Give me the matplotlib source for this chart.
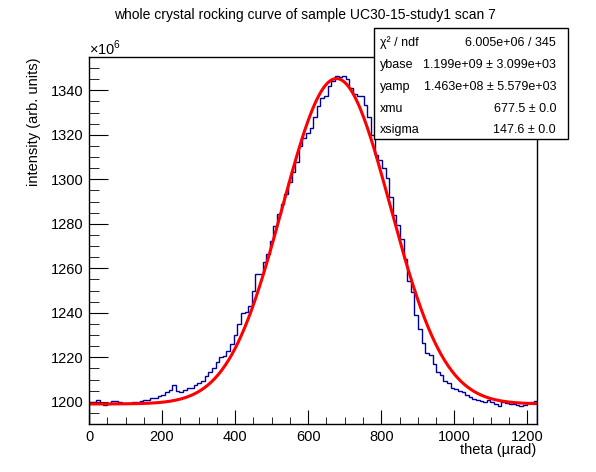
import numpy as np
import matplotlib
matplotlib.use("Agg")
import matplotlib.pyplot as plt
from matplotlib.patches import Rectangle

plt.rcParams['font.family'] = ['Liberation Sans', 'DejaVu Sans']
plt.rcParams['mathtext.fontset'] = 'custom'
plt.rcParams['mathtext.rm'] = 'Liberation Sans'

# histogram contents (units of 1e6), bins of ~10 urad starting at theta = 0
counts = [
    1200, 1200, 1200.6, 1199.5, 1198.6, 1199, 1200.2, 1200.3, 1199.8, 1199.4,
    1199.4, 1199.6, 1199.9, 1199.8, 1200.2, 1200.7, 1200.9, 1201.5, 1201.8, 1202.4,
    1203.2, 1204.5, 1205.4, 1207.4, 1205, 1204.6, 1205.5, 1206, 1206.4, 1207.6,
    1208.6, 1209.5, 1211.5, 1213.6, 1215.2, 1218, 1220, 1220.5, 1222.8, 1226,
    1230, 1235, 1240, 1240.5, 1243, 1250, 1257.5, 1257.5, 1263, 1266.5,
    1272.5, 1279, 1284.5, 1289, 1293.5, 1299, 1303.5, 1308, 1315, 1318.5,
    1321, 1323, 1328, 1333, 1336.5, 1337.5, 1342, 1344, 1346.5, 1346,
    1346.5, 1345, 1341, 1338.5, 1337.5, 1337.5, 1333.5, 1328, 1320, 1311,
    1308.5, 1305, 1300.5, 1292, 1284, 1279.5, 1273, 1264, 1254.5, 1249.5,
    1239, 1232.5, 1226.5, 1222, 1221, 1217, 1213.5, 1212, 1209.5, 1208.5,
    1206, 1205.8, 1205, 1204.5, 1203, 1202, 1201.4, 1201, 1200.4, 1200.1,
    1200.8, 1200, 1199, 1198, 1199.8, 1199.5, 1199.2, 1198.8, 1198.5, 1198,
    1198.6, 1199.5, 1200, 1200.5,
]
bin_width = 9.9

# fit result shown in the stats box
chi2, ndf = 6.005e+06, 345
ybase, ybase_err = 1.199e+09, 3.099e+03
yamp, yamp_err = 1.463e+08, 5.579e+03
xmu, xmu_err = 677.5, 0.0
xsigma, xsigma_err = 147.6, 0.0

x_range = (0, 1225)
y_range = (1190, 1355)

fig = plt.figure(figsize=(5.96, 4.72), dpi=100)
W, H = 596, 472
ax = fig.add_axes([89 / W, 1 - 424 / H, (536.5 - 89) / W, (424 - 57) / H])

edges = np.arange(len(counts) + 1) * bin_width
ax.stairs(counts, edges, color='#000099', lw=1.0)

xf = np.linspace(x_range[0], x_range[1], 400)
yf = (ybase + yamp * np.exp(-0.5 * ((xf - xmu) / xsigma) ** 2)) / 1e6
ax.plot(xf, yf, color='#ff0000', lw=2.2)

ax.set_xlim(*x_range)
ax.set_ylim(*y_range)
ax.set_xticks(np.arange(0, 1201, 200))
ax.set_xticks(np.arange(0, 1225, 50), minor=True)
ax.set_yticks(np.arange(1200, 1341, 20))
ax.set_yticks(np.arange(1190, 1356, 5), minor=True)
ax.tick_params(which='both', direction='in', labelsize=10.5)
ax.tick_params(axis='x', which='major', length=10, pad=4)
ax.tick_params(axis='x', which='minor', length=5)
ax.tick_params(axis='y', which='major', length=14, pad=4)
ax.tick_params(axis='y', which='minor', length=7)
for s in ax.spines.values():
    s.set_linewidth(1.0)

fig.text(305 / W, 1 - 15 / H, 'whole crystal rocking curve of sample UC30-15-study1 scan 7',
         ha='center', va='center', fontsize=10)
fig.text(536 / W, 1 - 450 / H, 'theta (\u00b5rad)', ha='right', va='center', fontsize=10.5)
fig.text(34 / W, 1 - 57 / H, 'intensity (arb. units)', ha='center', va='top',
         rotation=90, fontsize=10.5)
fig.text(89 / W, 1 - 48 / H, r'$\times10^{6}$', ha='left', va='center', fontsize=10.5)

# stats box
box = Rectangle((374 / W, 1 - 139 / H), (568 - 374) / W, (139 - 28) / H,
                transform=fig.transFigure, facecolor='white', edgecolor='black',
                lw=1.0, zorder=5)
fig.patches.append(box)
rows = [
    ('\u03c7\u00b2 / ndf', f'{chi2:.3e} / {ndf}'),
    ('ybase', f'{ybase:.3e} \u00b1 {ybase_err:.3e}'),
    ('yamp', f'{yamp:.3e} \u00b1 {yamp_err:.3e}'),
    ('xmu', f'{xmu:.1f} \u00b1 {xmu_err:.1f}'),
    ('xsigma', f'{xsigma:.1f} \u00b1 {xsigma_err:.1f}'),
]
row_y = [43, 65, 87, 108.5, 130]
for (lab, val), yy in zip(rows, row_y):
    fig.text(380 / W, 1 - yy / H, lab, ha='left', va='center', fontsize=9, zorder=6)
    fig.text(556 / W, 1 - yy / H, val.replace('e+0', 'e+0'), ha='right', va='center',
             fontsize=9, zorder=6)

fig.savefig('out.png', dpi=100)
